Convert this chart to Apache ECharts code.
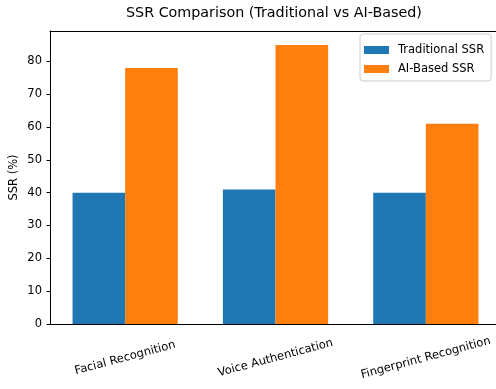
<!DOCTYPE html>
<html>
<head>
<meta charset="utf-8">
<script src="https://cdn.jsdelivr.net/npm/echarts@6/dist/echarts.min.js"></script>
<style>
html,body{margin:0;padding:0;background:#fff;}
#chart{width:496px;height:389px;}
</style>
</head>
<body>
<div id="chart"></div>
<script>
const categories = ['Facial Recognition', 'Voice Authentication', 'Fingerprint Recognition'];
const traditionalSSR = [40, 41, 40];
const aiBasedSSR = [78, 85, 61];
const yTicks = [0, 10, 20, 30, 40, 50, 60, 70, 80];
const seriesNames = ['Traditional SSR', 'AI-Based SSR'];
const titleText = 'SSR Comparison (Traditional vs AI-Based)';
const yAxisName = 'SSR (%)';

const FONT = 'DejaVu Sans';
const chart = echarts.init(document.getElementById('chart'), null, {renderer: 'canvas'});
const yMax = Math.max(...traditionalSSR, ...aiBasedSSR) * 1.05;

chart.setOption({
  animation: false,
  backgroundColor: '#fff',
  textStyle: {fontFamily: FONT},
  title: {
    text: titleText,
    left: 126,
    top: 6,
    padding: 0,
    textStyle: {fontFamily: FONT, fontSize: 14.3, fontWeight: 'normal', color: '#000'}
  },
  legend: {
    data: seriesNames,
    orient: 'vertical',
    left: 360,
    top: 34,
    padding: [10, 7, 6, 4],
    itemGap: 7,
    itemWidth: 25,
    itemHeight: 8,
    icon: 'rect',
    backgroundColor: '#fff',
    borderColor: '#cccccc',
    borderWidth: 1,
    borderRadius: 3,
    textStyle: {fontFamily: FONT, fontSize: 11.5, color: '#000', padding: [0, 0, 0, 4]}
  },
  grid: {
    left: 50,
    top: 31,
    width: 451,
    bottom: 65,
    containLabel: false,
    outerBoundsMode: 'none',
    show: false
  },
  xAxis: [
    {
      type: 'category',
      data: categories,
      position: 'bottom',
      axisLine: {lineStyle: {color: '#000', width: 1}},
      axisTick: {alignWithLabel: true, length: 3.5, lineStyle: {color: '#000'}},
      axisLabel: {
        rotate: 15,
        align: 'center',
        verticalAlign: 'middle',
        margin: 34,
        fontFamily: FONT,
        fontSize: 11.5,
        color: '#000',
        interval: 0
      },
      splitLine: {show: false}
    },
    {
      type: 'category',
      data: categories,
      position: 'top',
      axisLine: {show: true, lineStyle: {color: '#000', width: 1}},
      axisTick: {show: false},
      axisLabel: {show: false},
      splitLine: {show: false}
    }
  ],
  yAxis: {
    type: 'value',
    min: 0,
    max: yMax,
    interval: 10,
    name: yAxisName,
    nameLocation: 'middle',
    nameGap: 30,
    nameMoveOverlap: false,
    nameTextStyle: {fontFamily: FONT, fontSize: 11.5, color: '#000'},
    axisLine: {show: true, lineStyle: {color: '#000', width: 1}},
    axisTick: {show: true, length: 3.5, lineStyle: {color: '#000'}, customValues: yTicks},
    axisLabel: {fontFamily: FONT, fontSize: 11.5, color: '#000', margin: 8, customValues: yTicks},
    splitLine: {show: false}
  },
  series: [
    {
      name: seriesNames[0],
      type: 'bar',
      data: traditionalSSR,
      barWidth: '35%',
      barGap: '0%',
      itemStyle: {color: '#1f77b4'}
    },
    {
      name: seriesNames[1],
      type: 'bar',
      data: aiBasedSSR,
      barWidth: '35%',
      barGap: '0%',
      itemStyle: {color: '#ff7f0e'}
    }
  ]
});
</script>
</body>
</html>
